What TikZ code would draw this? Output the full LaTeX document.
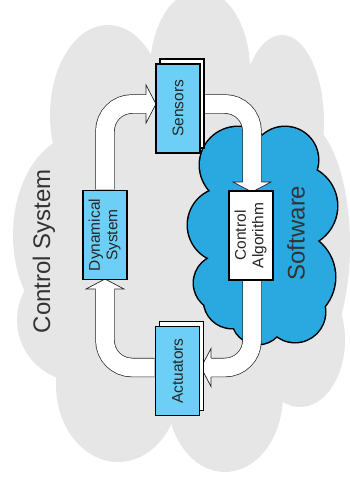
\documentclass[tikz,border=0pt]{standalone}
\usepackage{fontspec}
\setmainfont{Liberation Sans}
\usepackage{graphicx}
\usetikzlibrary{shadows}
\definecolor{cloudgray}{HTML}{E6E6E6}
\definecolor{swblue}{HTML}{29A9E0}
\definecolor{boxblue}{HTML}{6DCFF6}
\pgfdeclarelayer{clouds}
\pgfdeclarelayer{arrows}
\pgfsetlayers{clouds,arrows,main}

\begin{document}
\begin{tikzpicture}[x=1pt,y=-1pt,
   box/.style={draw,line width=1.6pt,minimum width=44pt,minimum height=89pt,inner sep=0pt,
     font=\fontsize{15.5}{17.5}\selectfont,text=black!85},
   stack/.style={copy shadow={shadow xshift=4pt,shadow yshift=5pt,fill=white,draw=black,line width=1.2pt}},
   shaft/.style={draw=black!85,line width=0.7pt,double=white,double distance=18pt,rounded corners=27pt},
   head/.style={draw=black!85,line width=0.7pt,fill=white,line join=miter},
   bigtext/.style={rotate=90,font=\fontsize{24}{28}\selectfont,text=black!80}]
 \useasboundingbox (0,0) rectangle (350,482);
 \begin{pgfonlayer}{clouds}
  % outer cloud (filled puffs, no rim)
  \foreach \cx/\cy/\rx/\ry in {200/70/50/80, 108/115/58/90, 282/122/42/87, 300/245/50/125,
      80/235/67/100, 80/320/63/62, 118/385/62/77, 225/395/58/77, 300/340/45/67, 190/250/130/170}
    \fill[cloudgray] (\cx,\cy) ellipse [x radius=\rx, y radius=\ry];
  % software cloud: black rim first, blue puffs on top of it
  \foreach \cx/\cy/\r in {238/165/38, 285/160/33, 296/206/41, 289/277/46, 295/312/30,
      258/318/26, 232/300/28, 222/283/28, 225/225/37}
    \draw[line width=3pt] (\cx,\cy) circle [radius=\r];
  \foreach \cx/\cy/\r in {238/165/38, 285/160/33, 296/206/41, 289/277/46, 295/312/30,
      258/318/26, 232/300/28, 222/283/28, 225/225/37}
    \fill[swblue] (\cx,\cy) circle [radius=\r];
  \fill[swblue] (262,240) ellipse [x radius=55, y radius=80];
  \node[bigtext] (ctrlsys) at (44,251) {Control System};
  \node[bigtext] (software) at (296,233) {Software};
 \end{pgfonlayer}
 % blocks
 \node[box,fill=boxblue,stack] (sensors)   at (178,108.5) {\rotatebox{90}{Sensors}};
 \node[box,fill=boxblue,stack] (actuators) at (177.5,371) {\rotatebox{90}{Actuators}};
 \node[box,fill=boxblue] (dynsys) at (105,235)
   {\rotatebox{90}{\begin{tabular}{@{}c@{}}Dynamical\\System\end{tabular}}};
 \node[box,fill=white] (ctrl) at (251,235.5)
   {\rotatebox{90}{\begin{tabular}{@{}c@{}}Control\\Algorithm\end{tabular}}};
 % head bases of the four fat arrows
 \coordinate (hA) at (146,104);
 \coordinate (hB) at (252,182);
 \coordinate (hC) at (211,367.5);
 \coordinate (hD) at (105,289);
 \begin{pgfonlayer}{arrows}
  \draw[shaft] (dynsys.north) |- (hA);
  \draw[head] (hA) ++(0,-9.35) -- ++(0,-9.65) -- ++(10,19) -- ++(-10,19) -- ++(0,-9.65);
  \draw[shaft] (sensors.east |- hA) -| (hB);
  \draw[head] (hB) ++(-9.35,0) -- ++(-9.65,0) -- ++(19,10) -- ++(19,-10) -- ++(-9.65,0);
  \draw[shaft] (hB |- ctrl.south) |- (hC);
  \draw[head] (hC) ++(0,-9.35) -- ++(0,-9.65) -- ++(-10,19) -- ++(10,19) -- ++(0,-9.65);
  \draw[shaft] (actuators.west |- hC) -| (hD);
  \draw[head] (hD) ++(-9.35,0) -- ++(-9.65,0) -- ++(19,-10) -- ++(19,10) -- ++(-9.65,0);
 \end{pgfonlayer}
\end{tikzpicture}
\end{document}
